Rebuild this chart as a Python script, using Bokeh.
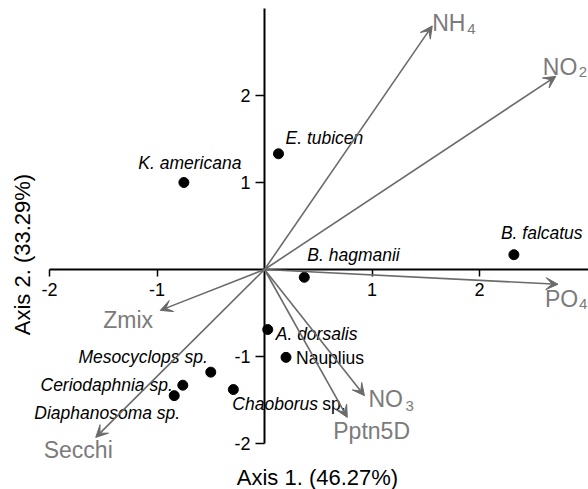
import math
from bokeh.plotting import figure
from bokeh.models import ColumnDataSource, Arrow, VeeHead, FixedTicker, Label
from bokeh.core.properties import value
from bokeh.embed import file_html
from bokeh.resources import INLINE

# ---- data: species scores ----
species = ["K. americana", "E. tubicen", "B. falcatus", "B. hagmanii", "A. dorsalis",
           "Nauplius", "Mesocyclops sp.", "Ceriodaphnia sp.", "Diaphanosoma sp.", "Chaoborus"]
sp_x = [-0.75, 0.13, 2.32, 0.37, 0.03, 0.20, -0.50, -0.76, -0.84, -0.29]
sp_y = [1.00, 1.33, 0.17, -0.09, -0.69, -1.01, -1.18, -1.33, -1.45, -1.38]

# ---- data: environmental vectors ----
env_main = ["NH", "NO", "PO", "NO", "Pptn5D", "Zmix", "Secchi"]
env_sub = ["4", "2", "4", "3", "", "", ""]
env_x = [1.56, 2.71, 2.73, 0.93, 0.77, -0.97, -1.57]
env_y = [2.80, 2.22, -0.17, -1.45, -1.70, -0.47, -1.93]

x_ticks = [-2, -1, 1, 2]
y_ticks = [-2, -1, 1, 2]
tick_text = {-2: "-2", -1: "-1", 1: "1", 2: "2"}
x_title = "Axis 1. (46.27%)"
y_title = "Axis 2. (33.29%)"

FONT = "Liberation Sans"
W, H = 588, 489

p = figure(width=W, height=H, output_backend="svg", toolbar_location=None,
           title=None, x_range=(-2.456, 3.014), y_range=(-2.529, 3.092),
           min_border=0)
p.outline_line_color = None
p.grid.visible = False
p.background_fill_color = "white"

for ax, ticks, bounds in ((p.xaxis, x_ticks, (-2, 3.5)), (p.yaxis, y_ticks, (-2, 3.0))):
    ax.fixed_location = 0
    ax.ticker = FixedTicker(ticks=ticks)
    ax.major_label_overrides = tick_text
    ax.bounds = bounds
    ax.axis_line_color = "black"
    ax.axis_line_width = 2
    ax.major_tick_line_color = "black"
    ax.major_tick_line_width = 1.5
    ax.minor_tick_line_color = None
    ax.major_tick_in = 0
    ax.major_label_text_font = FONT
    ax.major_label_text_font_size = "18px"
    ax.major_label_text_color = "black"
p.xaxis.major_tick_out = 7
p.xaxis.major_label_standoff = 7
p.yaxis.major_tick_out = 9
p.yaxis.major_label_standoff = 5

# environmental arrows
env_src = ColumnDataSource(dict(x0=[0] * len(env_x), y0=[0] * len(env_y), x1=env_x, y1=env_y))
ARROW_COL = "#6a6a6a"
p.add_layout(Arrow(source=env_src, x_start="x0", y_start="y0", x_end="x1", y_end="y1",
                   line_color=ARROW_COL, line_width=1.6,
                   end=VeeHead(size=12, fill_color=ARROW_COL, line_color=ARROW_COL, line_width=1)))

LABEL_COL = "#7b7b7b"
env_dx = [0, -13, -13, 4, -14, -57, -52]
env_dy = [-3, -9, 15, 3, 14, 10, 13]
p.text(x=env_x, y=env_y, text=env_main, x_offset=env_dx, y_offset=env_dy,
       text_font=value(FONT), text_font_size="23px", text_color=LABEL_COL,
       text_align="left", text_baseline="middle")
sub_dx = [35, 23, 21, 41, 0, 0, 0]
sub_dy = [3, -4, 20, 10, 0, 0, 0]
p.text(x=env_x, y=env_y, text=env_sub, x_offset=sub_dx, y_offset=sub_dy,
       text_font=value(FONT), text_font_size="15px", text_color=LABEL_COL,
       text_align="left", text_baseline="middle")

# species points
p.scatter(sp_x, sp_y, size=10, color="black")

sp_align = ["center", "left", "left", "left", "left", "left", "right", "right", "right", "left"]
sp_dx = [6, 7, -13, 3, 8, 10, -3, -10, 6, -1]
sp_dy = [-19, -16, -22, -22, 4, 1, -15, 0, 17, 14]
sp_style = ["italic"] * 5 + ["normal"] + ["italic"] * 4
sp_src = ColumnDataSource(dict(x=sp_x, y=sp_y, t=species, dx=sp_dx, dy=sp_dy,
                               al=sp_align, st=sp_style))
p.text(x="x", y="y", text="t", x_offset="dx", y_offset="dy", text_align="al",
       text_font_style="st", source=sp_src, text_font=value(FONT),
       text_font_size="17.5px", text_color="black", text_baseline="middle")
# upright "sp." after Chaoborus
p.text(x=[sp_x[9]], y=[sp_y[9]], text=["sp."], x_offset=[89], y_offset=[14],
       text_font=value(FONT), text_font_size="17.5px", text_color="black",
       text_align="left", text_baseline="middle")

# axis titles
p.add_layout(Label(x=317, y=12, x_units="screen", y_units="screen", text=x_title,
                   text_font=FONT, text_font_size="22px", text_color="black",
                   text_align="center", text_baseline="alphabetic"))
p.add_layout(Label(x=22, y=H - 254, x_units="screen", y_units="screen", text=y_title,
                   angle=math.pi / 2, text_font=FONT, text_font_size="22px",
                   text_color="black", text_align="center", text_baseline="middle"))

open("out.html", "w").write(file_html(p, INLINE))
